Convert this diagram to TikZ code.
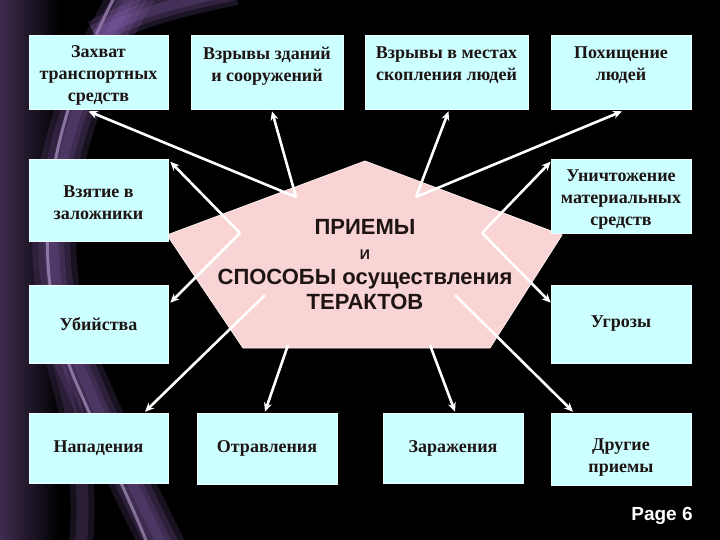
\documentclass[tikz,border=0pt]{standalone}
\usepackage{fontspec}
\setmainfont{Liberation Serif}
\setsansfont{Liberation Sans}
\usetikzlibrary{arrows.meta}
\definecolor{boxcyan}{HTML}{CCFFFF}
\definecolor{pentapink}{HTML}{F9D4D4}
\definecolor{glow}{HTML}{9B6FC8}
\definecolor{inkdark}{HTML}{1E1414}

\begin{document}
\begin{tikzpicture}[x=1pt,y=-1pt]
    \tikzstyle{method}=[rectangle,fill=boxcyan,draw=white!60!boxcyan,line width=0.6pt,minimum width=140pt,minimum height=74pt,inner sep=3pt,align=center,text=inkdark,font=\fontsize{18}{22}\selectfont\bfseries]
    \tikzstyle{conn}=[draw=white,line width=2.6pt,-{Stealth[length=9pt,width=8pt]}]
    \useasboundingbox (0,0) rectangle (720,540);
    \fill[black] (0,0) rectangle (720,540);

    % purple glow on the left
    \shade[left color=glow!40!black,right color=black] (0,0) rectangle (60,540);
    \foreach \w in {44,32,20,10}
        \draw[glow,line width=\w pt,opacity=0.16] (135,-10) .. controls (50,130) and (30,260) .. (85,380) .. controls (115,450) and (140,500) .. (165,550);
    \draw[glow!55!white,line width=3pt,opacity=0.55] (118,-10) .. controls (45,130) and (25,260) .. (75,380) .. controls (105,450) and (130,500) .. (150,550);
    \foreach \w in {30,20,10}
        \draw[glow,line width=\w pt,opacity=0.18] (95,35) .. controls (140,10) and (190,0) .. (235,-10);
    \foreach \w in {24,12}
        \draw[glow,line width=\w pt,opacity=0.15] (40,300) .. controls (70,400) and (90,470) .. (80,550);

    % central pentagon
    \coordinate (p1) at (365,161);
    \coordinate (p2) at (562,235);
    \coordinate (p3) at (490,348);
    \coordinate (p4) at (243,348);
    \coordinate (p5) at (167,235);
    \filldraw[fill=pentapink,draw=white!60!pentapink,line width=0.8pt] (p1) -- (p2) -- (p3) -- (p4) -- (p5) -- cycle;
    \node[align=center,text=inkdark,font=\sffamily\bfseries\fontsize{22}{25}\selectfont] (title) at (365,265)
        {ПРИЕМЫ\\{\fontsize{14}{16}\selectfont И}\\СПОСОБЫ осуществления\\ТЕРАКТОВ};

    % boxes
    \node[method,minimum width=139pt,text height=62pt] (capture) at (98.5,72) {Захват\\транспортных\\средств};
    \node[method,minimum width=152pt,text depth=16pt] (blastbld) at (267,72) {Взрывы зданий\\и сооружений};
    \node[method,minimum width=163pt,text depth=16pt] (blastcrowd) at (446.5,72) {Взрывы в местах\\скопления людей};
    \node[method,text depth=16pt] (kidnap) at (621,72) {Похищение\\людей};
    \node[method,minimum width=139pt,minimum height=82pt,text height=40pt] (hostage) at (98.5,200) {Взятие в\\заложники};
    \node[method,text height=63pt] (destroy) at (621,196) {Уничтожение\\материальных\\средств};
    \node[method,minimum width=139pt,minimum height=78pt] (murder) at (98.5,324) {Убийства};
    \node[method,minimum height=78pt] (threat) at (621,324) {Угрозы};
    \node[method,minimum width=139pt,minimum height=70pt] (attack) at (98.5,448) {Нападения};
    \node[method,minimum height=71pt] (poison) at (267,448.5) {Отравления};
    \node[method,minimum height=70pt] (infect) at (453,448) {Заражения};
    \node[method,minimum height=72pt,text height=50pt] (other) at (621,449) {Другие\\приемы};

    % arrow starts inside the pentagon
    \coordinate (vtl) at (296,197);
    \coordinate (vtr) at (416,197);
    \coordinate (vl) at (240,233);
    \coordinate (vr) at (482,233);
    \coordinate (vbl) at (265,295);
    \coordinate (vbr) at (455,295);
    \coordinate (vdl) at (288,345);
    \coordinate (vdr) at (430,345);

    % arrow ends on the boxes
    \coordinate (to-capture) at ([xshift=-10pt,yshift=-2pt]capture.south);
    \coordinate (to-blastbld) at ([xshift=5pt,yshift=-2pt]blastbld.south);
    \coordinate (to-blastcrowd) at ([xshift=2pt,yshift=-2pt]blastcrowd.south);
    \coordinate (to-kidnap) at ([xshift=1pt,yshift=-2pt]kidnap.south);
    \coordinate (to-hostage) at ([xshift=2pt,yshift=-3pt]hostage.north east);
    \coordinate (to-destroy) at ([yshift=-3pt]destroy.north west);
    \coordinate (to-murder) at ([xshift=2pt,yshift=-18pt]murder.north east);
    \coordinate (to-threat) at ([yshift=-18pt]threat.north west);
    \coordinate (to-attack) at ([xshift=46.5pt,yshift=1pt]attack.north);
    \coordinate (to-poison) at ([xshift=-2pt,yshift=1pt]poison.north);
    \coordinate (to-infect) at ([xshift=2pt,yshift=1pt]infect.north);
    \coordinate (to-other) at ([xshift=-48pt,yshift=1pt]other.north);

    \foreach \from/\to in {vtl/capture, vtl/blastbld, vtr/blastcrowd, vtr/kidnap,
                           vl/hostage, vl/murder, vr/destroy, vr/threat,
                           vbl/attack, vdl/poison, vdr/infect, vbr/other}
        \draw[conn] (\from) -- (to-\to);

    \node[text=white,font=\sffamily\bfseries\fontsize{19}{22}\selectfont] (page) at (662,516) {Page 6};
\end{tikzpicture}
\end{document}
